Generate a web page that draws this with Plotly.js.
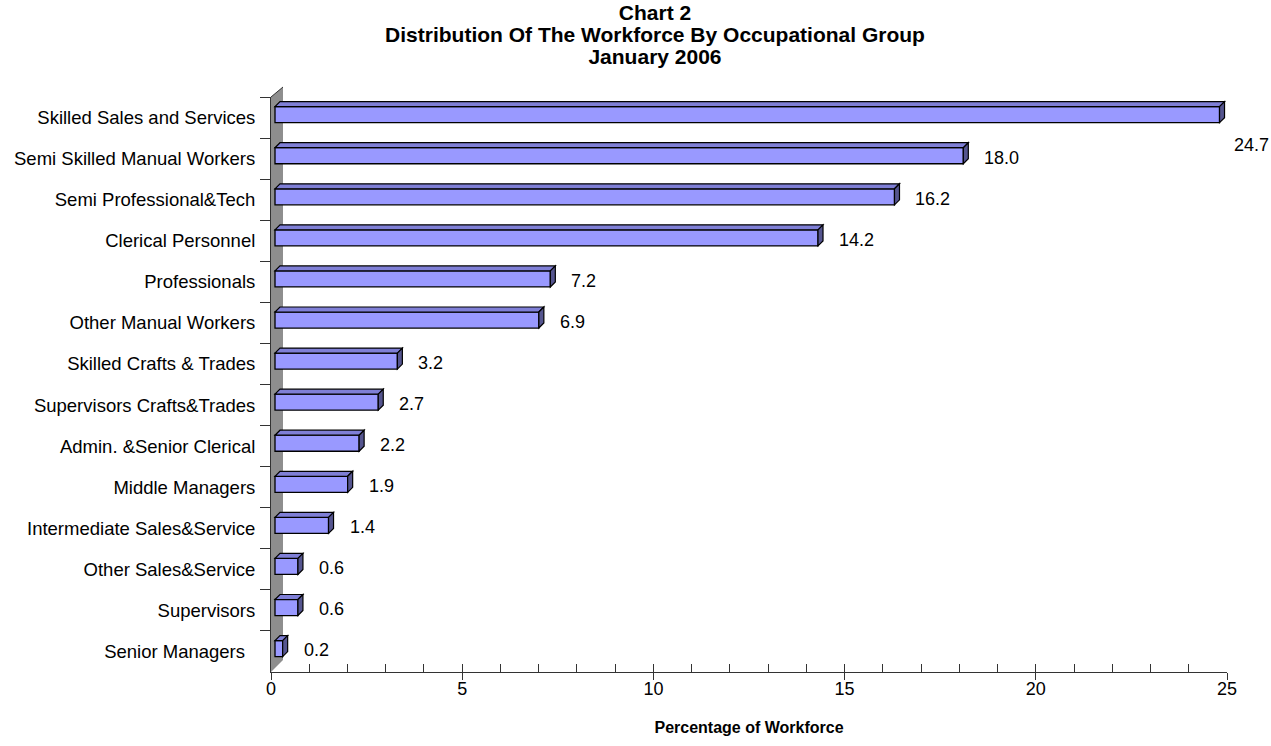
<!DOCTYPE html>
<html>
<head>
<meta charset="utf-8">
<script src="https://cdn.plot.ly/plotly-3.0.1.min.js"></script>
<style>
  html, body { margin: 0; padding: 0; background: #ffffff; }
  #chart { width: 1271px; height: 746px; }
</style>
</head>
<body>
<div id="chart"></div>
<script>
// Occupational groups, largest share first
const groups = [
  'Skilled Sales and Services',
  'Semi Skilled Manual Workers',
  'Semi Professional&Tech',
  'Clerical Personnel',
  'Professionals',
  'Other Manual Workers',
  'Skilled Crafts & Trades',
  'Supervisors Crafts&Trades',
  'Admin. &Senior Clerical',
  'Middle Managers',
  'Intermediate Sales&Service',
  'Other Sales&Service',
  'Supervisors',
  'Senior Managers\u00a0\u00a0'
];
// Percentage of workforce in each group
const shares = [24.7, 18.0, 16.2, 14.2, 7.2, 6.9, 3.2, 2.7, 2.2, 1.9, 1.4, 0.6, 0.6, 0.2];
const xTicks = [0, 5, 10, 15, 20, 25];
const titleLines = ['Chart 2', 'Distribution Of The Workforce By Occupational Group', 'January 2006'];

// ---- geometry of the plotting area ----
const W = 1271, H = 746;
const margin = { l: 271, r: 44, t: 97, b: 74, pad: 0 };
const xMax = 25;
const plotW = W - margin.l - margin.r;
const plotH = H - margin.t - margin.b;
const pxPerUnit = plotW / xMax;
const pxPerCat = plotH / groups.length;

// 3-D look: bars sit a few pixels behind the front plane
const depth = 5;                 // bar depth (px)
const barInset = 4;              // bars pushed back from the front plane (px)
const barWidth = 0.39;           // in category units
const barLift = 0.07;            // bars raised toward the back plane (category units)
const halfPx = barWidth * pxPerCat / 2;
const depthX = depth / pxPerUnit;

const font = 'Liberation Sans, Arial, Helvetica, sans-serif';
const face = '#9999ff', topFace = '#7f7fd6', sideFace = '#55558f', edge = '#000000';

const idx = groups.map((_, i) => i);

const bars = {
  type: 'bar',
  orientation: 'h',
  x: shares,
  y: groups,
  xaxis: 'x2',
  yaxis: 'y',
  width: barWidth,
  offset: -barWidth / 2 - barLift,
  marker: { color: face, line: { color: edge, width: 1.3 } },
  hoverinfo: 'x+y',
  showlegend: false
};

const shapes = [];
// back wall behind the category axis
shapes.push({
  type: 'path', layer: 'below',
  xref: 'x', xsizemode: 'pixel', xanchor: 0,
  yref: 'paper',
  path: 'M0,0 L12,' + (12 / plotH) + ' L12,' + (1 + 10 / plotH) + ' L0,1 Z',
  fillcolor: '#8e8e8e', line: { width: 0 }
});
shapes.push({
  type: 'line', layer: 'below',
  xref: 'x', xsizemode: 'pixel', xanchor: 0, x0: 0, x1: 12,
  yref: 'paper', y0: 1, y1: 1 + 10 / plotH,
  line: { color: '#333333', width: 1 }
});
// top and side faces of every bar
idx.forEach(i => {
  const v = shares[i];
  const yc = i - barLift;
  shapes.push({
    type: 'path',
    xref: 'x2', yref: 'y', ysizemode: 'pixel', yanchor: yc,
    path: 'M0,' + halfPx + ' L' + v + ',' + halfPx + ' L' + (v + depthX) + ',' + (halfPx + depth) +
          ' L' + depthX + ',' + (halfPx + depth) + ' Z',
    fillcolor: topFace, line: { color: edge, width: 1.2 }
  });
  shapes.push({
    type: 'path',
    xref: 'x2', xsizemode: 'pixel', xanchor: v,
    yref: 'y', ysizemode: 'pixel', yanchor: yc,
    path: 'M0,' + halfPx + ' L' + depth + ',' + (halfPx + depth) + ' L' + depth + ',' + (depth - halfPx) +
          ' L0,' + (-halfPx) + ' Z',
    fillcolor: sideFace, line: { color: edge, width: 1.2 }
  });
});

// value labels just past the end of each bar; a label that would run off the
// right edge drops below its bar instead
const labelGap = 19, labelW = 36;
const annotations = idx.map(i => {
  const v = shares[i];
  const endPx = margin.l + barInset + v * pxPerUnit;
  const tooWide = endPx + labelGap + labelW > W;
  return {
    xref: 'x2', yref: 'y',
    x: v, y: i,
    text: v.toFixed(1),
    showarrow: false,
    xanchor: 'left', yanchor: 'middle',
    xshift: tooWide ? labelGap - 7 : labelGap,
    yshift: tooWide ? -27 : 1,
    font: { family: font, size: 18, color: '#000000' }
  };
});

const axisLine = '#333333';

// the title's line pitch follows the outer font size, the glyphs the inner span
const titleText = '<b><span style="font-size:21px">' +
  titleLines.join('</span><br><span style="font-size:21px">') + '</span></b>';

const layout = {
  width: W, height: H,
  margin: margin,
  paper_bgcolor: '#ffffff',
  plot_bgcolor: 'rgba(0,0,0,0)',
  font: { family: font, size: 18, color: '#000000' },
  title: {
    text: titleText,
    font: { family: font, size: 17, color: '#000000' },
    xref: 'container', x: 655 / W, xanchor: 'center',
    yref: 'container', y: 1 - 20 / H, yanchor: 'top'
  },
  xaxis: {
    range: [0, xMax],
    tickmode: 'array', tickvals: xTicks, ticktext: xTicks.map(String),
    ticks: 'inside', ticklen: 8, tickwidth: 1, tickcolor: axisLine,
    minor: { dtick: 1, ticks: 'inside', ticklen: 8, tickwidth: 1, tickcolor: axisLine },
    showline: true, linecolor: axisLine, linewidth: 1,
    showgrid: false, zeroline: false,
    ticklabelstandoff: 0,
    tickfont: { family: font, size: 18, color: '#000000' },
    title: {
      text: '<b>Percentage of Workforce</b>',
      font: { family: font, size: 16, color: '#000000' },
      standoff: 24
    },
    automargin: false,
    fixedrange: true
  },
  // outward halves of the major ticks
  xaxis3: {
    overlaying: 'x', anchor: 'y', side: 'bottom',
    range: [0, xMax],
    tickmode: 'array', tickvals: xTicks,
    ticks: 'outside', ticklen: 7, tickwidth: 1, tickcolor: axisLine,
    showticklabels: false, showline: false, showgrid: false, zeroline: false,
    fixedrange: true
  },
  // scale for the bars, shifted back from the front plane
  xaxis2: {
    overlaying: 'x', anchor: 'y',
    range: [-barInset / pxPerUnit, xMax - barInset / pxPerUnit],
    visible: false, fixedrange: true
  },
  yaxis: {
    type: 'category',
    categoryorder: 'array', categoryarray: groups,
    range: [groups.length - 0.5, -0.5],
    tickson: 'boundaries',
    ticks: 'outside', ticklen: 10, tickwidth: 1, tickcolor: axisLine,
    showline: true, linecolor: axisLine, linewidth: 1,
    showgrid: false, zeroline: false,
    ticklabelstandoff: 11,
    tickfont: { family: font, size: 18.5, color: '#000000' },
    automargin: false,
    fixedrange: true
  },
  shapes: shapes,
  annotations: annotations,
  bargap: 0
};

// a trace on xaxis3 so that its ticks are drawn
const tickCarrier = {
  type: 'scatter', mode: 'none', x: [0, xMax], y: [groups[0], groups[0]],
  xaxis: 'x3', yaxis: 'y', hoverinfo: 'skip', showlegend: false
};

Plotly.newPlot('chart', [bars, tickCarrier], layout, { displayModeBar: false, staticPlot: true });
</script>
</body>
</html>
